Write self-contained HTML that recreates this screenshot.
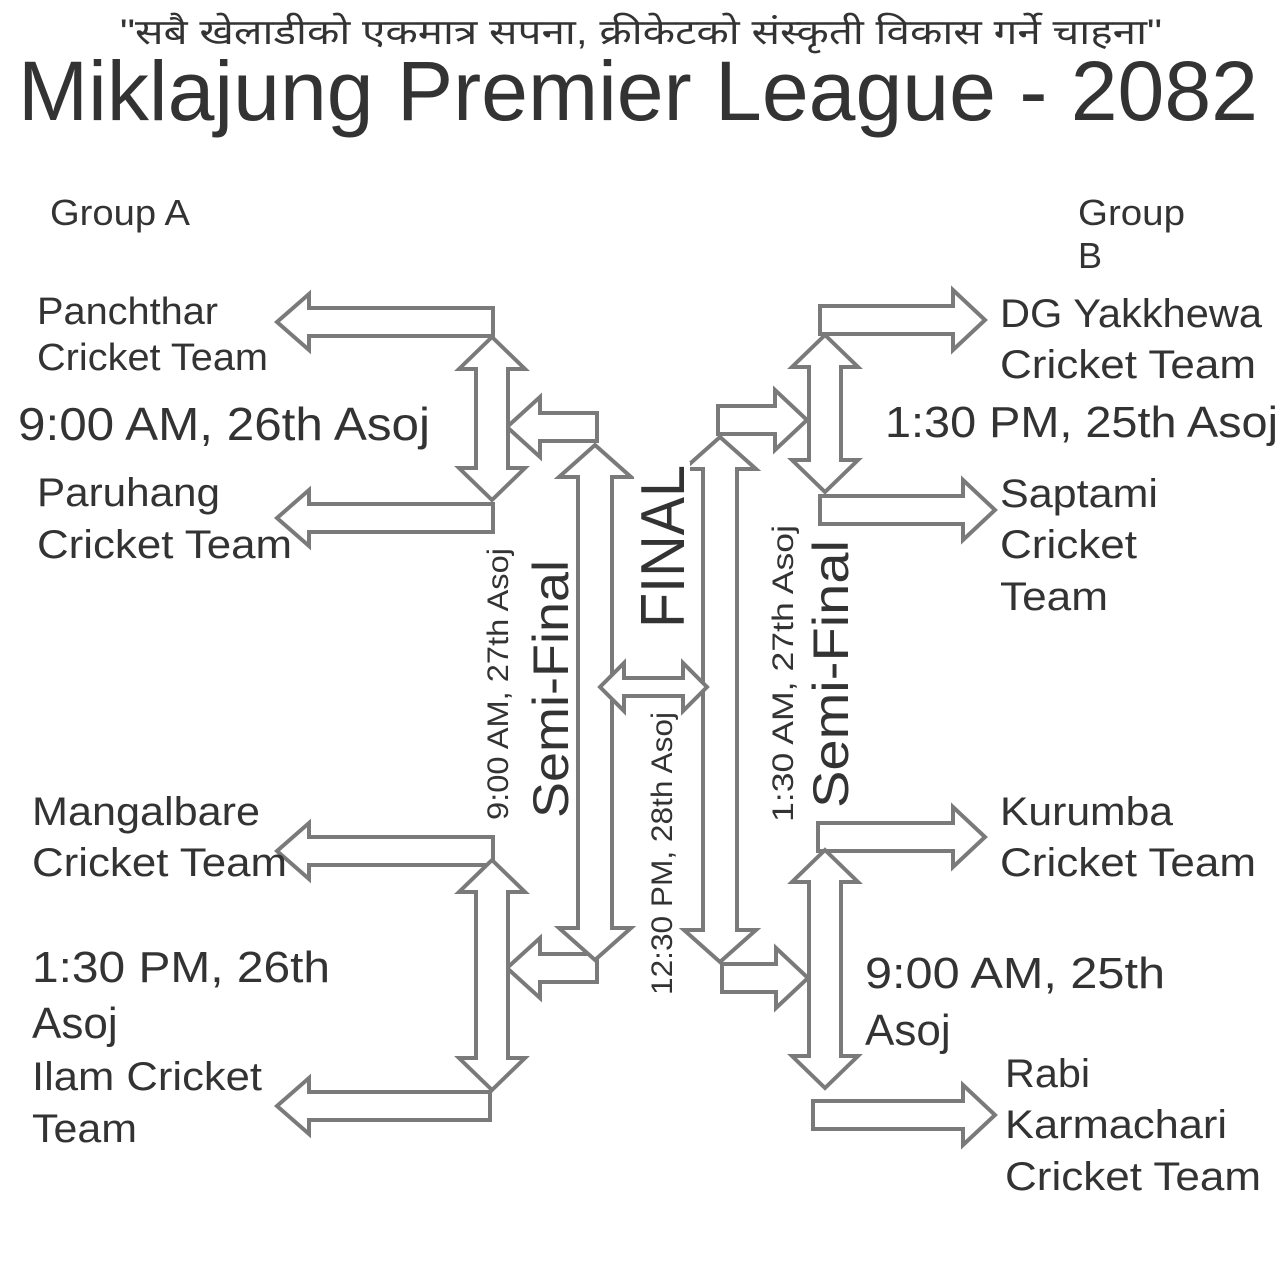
<!DOCTYPE html>
<html><head><meta charset="utf-8"><style>
html,body{margin:0;padding:0;background:#fff}
svg{display:block}
text{font-family:"Liberation Sans",sans-serif;fill:#333}
polygon{fill:#fff;stroke:#7a7a7a;stroke-width:4;stroke-linejoin:miter}
</style></head><body>
<svg width="1280" height="1280" viewBox="0 0 1280 1280" xmlns="http://www.w3.org/2000/svg">
<rect width="1280" height="1280" fill="#fff"/>
<text x="120" y="44" font-size="35" textLength="1042" lengthAdjust="spacingAndGlyphs" style='font-family:"Liberation Sans","Noto Sans CJK SC",sans-serif'>"सबै खेलाडीको एकमात्र सपना, क्रीकेटको संस्कृती विकास गर्ने चाहना"</text>
<text x="18" y="120" font-size="84" textLength="1240" lengthAdjust="spacingAndGlyphs">Miklajung Premier League - 2082</text>

<polygon points="493,308 309,308 309,294 277,322 309,350 309,336 493,336"/>
<polygon points="493,504 309,504 309,490 277,518 309,546 309,532 493,532"/>
<polygon points="493,837 309,837 309,823 277,851 309,879 309,865 493,865"/>
<polygon points="490,1092 309,1092 309,1078 277,1106 309,1134 309,1120 490,1120"/>
<polygon points="597,413 540,413 540,397 507,427 540,457 540,441 597,441"/>
<polygon points="597,954 540,954 540,938 507,968 540,998 540,982 597,982"/>
<polygon points="820,306 953,306 953,290 985,320 953,350 953,334 820,334"/>
<polygon points="820,496 963,496 963,480 995,510 963,540 963,524 820,524"/>
<polygon points="818,823 953,823 953,807 985,837 953,867 953,851 818,851"/>
<polygon points="813,1101 963,1101 963,1085 995,1115 963,1145 963,1129 813,1129"/>
<polygon points="718,406 775,406 775,390 807,420 775,450 775,434 718,434"/>
<polygon points="722,964 776,964 776,948 808,978 776,1008 776,992 722,992"/>

<polygon points="492,337 525,369 508,369 508,468 525,468 492,500 459,468 476,468 476,369 459,369"/>
<polygon points="595,445 631,477 612,477 612,928 631,928 595,960 559,928 578,928 578,477 559,477"/>
<polygon points="492,860 525,892 508,892 508,1058 525,1058 492,1090 459,1058 476,1058 476,892 459,892"/>
<polygon points="720,437 756,469 737,469 737,930 756,930 720,962 684,930 703,930 703,469 684,469"/>
<polygon points="825,335 858,367 841,367 841,460 858,460 825,492 792,460 809,460 809,367 792,367"/>
<polygon points="825,850 858,882 841,882 841,1056 858,1056 825,1088 792,1056 809,1056 809,882 792,882"/>
<polygon points="600,687 624,663 624,678 683,678 683,663 707,687 683,711 683,696 624,696 624,711"/>

<text x="50" y="225" font-size="36" textLength="140" lengthAdjust="spacingAndGlyphs">Group A</text>
<text x="37" y="324" font-size="38" textLength="181" lengthAdjust="spacingAndGlyphs">Panchthar</text>
<text x="37" y="370" font-size="38" textLength="231" lengthAdjust="spacingAndGlyphs">Cricket Team</text>
<text x="18" y="440" font-size="46" textLength="412" lengthAdjust="spacingAndGlyphs">9:00 AM, 26th Asoj</text>
<text x="37" y="506" font-size="40" textLength="183" lengthAdjust="spacingAndGlyphs">Paruhang</text>
<text x="37" y="558" font-size="40" textLength="255" lengthAdjust="spacingAndGlyphs">Cricket Team</text>
<text x="32" y="825" font-size="40" textLength="228" lengthAdjust="spacingAndGlyphs">Mangalbare</text>
<text x="32" y="876" font-size="40" textLength="255" lengthAdjust="spacingAndGlyphs">Cricket Team</text>
<text x="32" y="982" font-size="44" textLength="298" lengthAdjust="spacingAndGlyphs">1:30 PM, 26th</text>
<text x="32" y="1038" font-size="44">Asoj</text>
<text x="32" y="1090" font-size="40" textLength="230" lengthAdjust="spacingAndGlyphs">Ilam Cricket</text>
<text x="32" y="1142" font-size="40" textLength="105" lengthAdjust="spacingAndGlyphs">Team</text>

<text x="1078" y="225" font-size="36" textLength="107" lengthAdjust="spacingAndGlyphs">Group</text>
<text x="1078" y="268" font-size="36">B</text>
<text x="1000" y="327" font-size="40" textLength="262" lengthAdjust="spacingAndGlyphs">DG Yakkhewa</text>
<text x="1000" y="378" font-size="40" textLength="256" lengthAdjust="spacingAndGlyphs">Cricket Team</text>
<text x="885" y="437" font-size="44" textLength="393" lengthAdjust="spacingAndGlyphs">1:30 PM, 25th Asoj</text>
<text x="1000" y="507" font-size="40" textLength="158" lengthAdjust="spacingAndGlyphs">Saptami</text>
<text x="1000" y="558" font-size="40" textLength="137" lengthAdjust="spacingAndGlyphs">Cricket</text>
<text x="1000" y="610" font-size="40" textLength="108" lengthAdjust="spacingAndGlyphs">Team</text>
<text x="1000" y="825" font-size="40" textLength="173" lengthAdjust="spacingAndGlyphs">Kurumba</text>
<text x="1000" y="876" font-size="40" textLength="256" lengthAdjust="spacingAndGlyphs">Cricket Team</text>
<text x="865" y="988" font-size="44" textLength="300" lengthAdjust="spacingAndGlyphs">9:00 AM, 25th</text>
<text x="865" y="1045" font-size="44">Asoj</text>
<text x="1005" y="1087" font-size="40" textLength="85" lengthAdjust="spacingAndGlyphs">Rabi</text>
<text x="1005" y="1138" font-size="40" textLength="222" lengthAdjust="spacingAndGlyphs">Karmachari</text>
<text x="1005" y="1190" font-size="40" textLength="256" lengthAdjust="spacingAndGlyphs">Cricket Team</text>

<rect x="520" y="556" width="56" height="266" fill="#fff"/><rect x="634" y="462" width="56" height="170" fill="#fff"/><rect x="800" y="536" width="56" height="276" fill="#fff"/>
<text transform="translate(568,818) rotate(-90)" font-size="50" textLength="258" lengthAdjust="spacingAndGlyphs">Semi-Final</text>
<text transform="translate(508,820) rotate(-90)" font-size="30" textLength="272" lengthAdjust="spacingAndGlyphs">9:00 AM, 27th Asoj</text>
<text transform="translate(684,628) rotate(-90)" font-size="62" textLength="163" lengthAdjust="spacingAndGlyphs">FINAL</text>
<text transform="translate(672,995) rotate(-90)" font-size="30" textLength="283" lengthAdjust="spacingAndGlyphs">12:30 PM, 28th Asoj</text>
<text transform="translate(793,822) rotate(-90)" font-size="30" textLength="297" lengthAdjust="spacingAndGlyphs">1:30 AM, 27th Asoj</text>
<text transform="translate(848,808) rotate(-90)" font-size="50" textLength="268" lengthAdjust="spacingAndGlyphs">Semi-Final</text>
</svg>
</body></html>
